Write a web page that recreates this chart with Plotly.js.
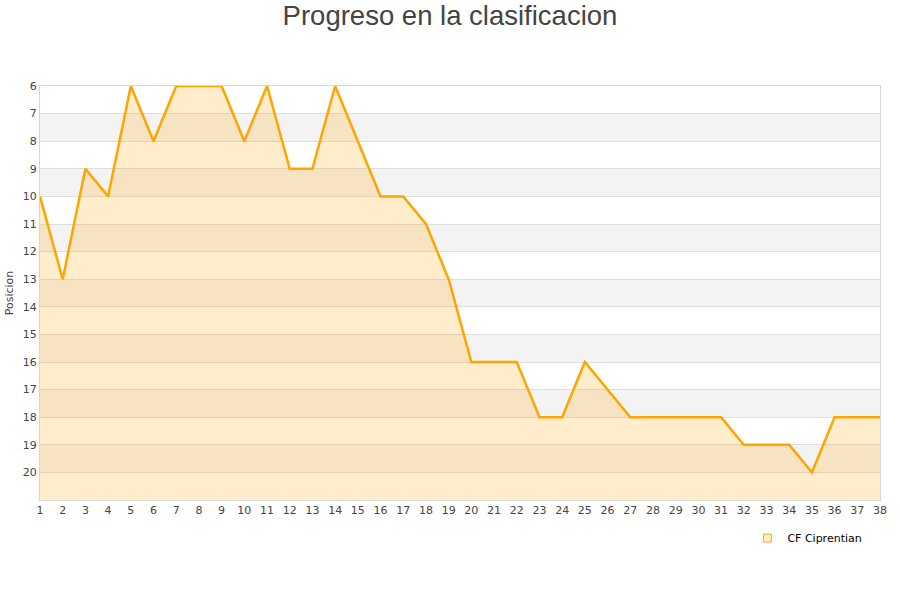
<!DOCTYPE html>
<html><head><meta charset="utf-8">
<script src="https://cdn.plot.ly/plotly-3.0.1.min.js"></script>
<style>body{margin:0;background:#fff}#chart{width:900px;height:600px}</style>
</head><body><div id="chart"></div>
<script>
const jornadas = Array.from({length:38},(_,i)=>i+1);
const posiciones = [10,13,9,10,6,8,6,6,6,8,6,9,9,6,8,10,10,11,13,16,16,16,18,18,16,17,18,18,18,18,18,19,19,19,20,18,18,18];
const teamName = 'CF Ciprentian';
const yTicks = [6,7,8,9,10,11,12,13,14,15,16,17,18,19,20];
const yBottom = 21, yTop = 6;

const baseline = jornadas.map(()=>yBottom);
const shapes = [];
for (let v = 7; v < 21; v += 2) {
  shapes.push({type:'rect', xref:'paper', yref:'y', x0:0, x1:1, y0:v, y1:v+1,
    fillcolor:'#f3f3f3', line:{width:0}, layer:'below'});
}

const traces = [
  {x:jornadas, y:baseline, mode:'lines', line:{width:0}, hoverinfo:'skip', showlegend:false},
  {x:jornadas, y:posiciones, mode:'lines', fill:'tonexty', fillcolor:'rgba(255,165,0,0.2)',
   line:{color:'#FFA500', width:2.5}, name:teamName, showlegend:false},
  {x:[null], y:[null], mode:'markers', name:teamName,
   marker:{symbol:'square', size:8, color:'rgba(255,165,0,0.2)', line:{color:'#FFA500', width:1}}}
];

const layout = {
  width:900, height:600,
  margin:{l:40, r:20, t:86, b:100},
  paper_bgcolor:'#fff', plot_bgcolor:'rgba(0,0,0,0)',
  title:{text:'Progreso en la clasificacion', font:{family:'Liberation Sans, Arial, sans-serif', size:27.5, color:'#444'}, x:0.5, xanchor:'center', y:0.975, yanchor:'middle'},
  font:{family:'DejaVu Sans, sans-serif', size:11, color:'#444'},
  xaxis:{range:[1,38], tickvals:jornadas, ticks:'', showgrid:false, zeroline:false,
    showline:true, linecolor:'#d6d6d6', linewidth:1, mirror:true, tickfont:{size:11, color:'#444'}},
  yaxis:{range:[yBottom, yTop], tickvals:yTicks, ticks:'', showgrid:true, gridcolor:'#dedede', gridwidth:1,
    zeroline:false, showline:true, linecolor:'#d6d6d6', linewidth:1, mirror:true,
    title:{text:'Posicion', font:{size:11, color:'#444'}, standoff:6}, tickfont:{size:11, color:'#444'}},
  shapes:shapes,
  showlegend:true,
  legend:{orientation:'h', x:0.985, xanchor:'right', y:-0.092, yanchor:'middle', font:{size:11, color:'#000'}, bgcolor:'rgba(0,0,0,0)'}
};
Plotly.newPlot('chart', traces, layout, {displayModeBar:false, staticPlot:true});
</script></body></html>
